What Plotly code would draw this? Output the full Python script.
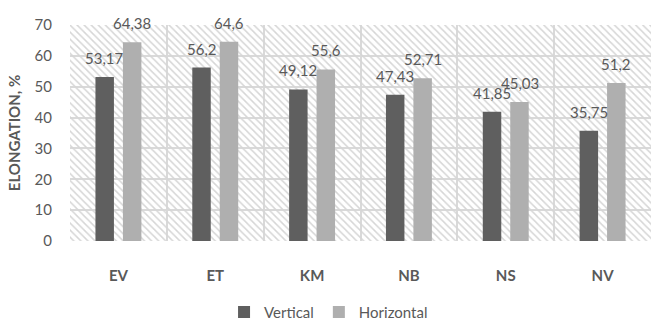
import plotly.graph_objects as go

# Elongation (%) per sample, measured in two directions
categories = ["EV", "ET", "KM", "NB", "NS", "NV"]
vertical = [53.17, 56.2, 49.12, 47.43, 41.85, 35.75]
horizontal = [64.38, 64.6, 55.6, 52.71, 45.03, 51.2]
y_ticks = [0, 10, 20, 30, 40, 50, 60, 70]

Y_MAX = 70
TEXT = "#595959"
GRID = "#d9d9d9"
HATCH = "#d6d6d6"
FONT = "Lato"

fig = go.Figure()

# Diagonal hatch filling the plot area, drawn beneath the data bars
fig.add_trace(go.Bar(
    x=[len(categories) / 2], y=[Y_MAX], width=[len(categories)],
    xaxis="x", yaxis="y",
    marker=dict(color=HATCH, line=dict(width=0),
                pattern=dict(shape="\\", fgcolor=HATCH, bgcolor="rgba(0,0,0,0)",
                             fillmode="replace", size=5, solidity=0.3)),
    showlegend=False, hoverinfo="skip",
))

fig.add_trace(go.Bar(name="Vertical", x=categories, y=vertical,
                     xaxis="x2", yaxis="y", marker=dict(color="#5f5f5f", line=dict(width=0))))
fig.add_trace(go.Bar(name="Horizontal", x=categories, y=horizontal,
                     xaxis="x2", yaxis="y", marker=dict(color="#afafaf", line=dict(width=0))))

# Value labels above each bar (decimal comma)
bar_offset = 13.75
annotations = []
for series, shift in ((vertical, -bar_offset), (horizontal, bar_offset)):
    for cat, val in zip(categories, series):
        annotations.append(dict(
            x=cat, y=val, xref="x2", yref="y", text=str(val).replace(".", ","),
            showarrow=False, xshift=shift, yshift=19, yanchor="middle",
            font=dict(family=FONT, size=15, color=TEXT),
        ))

fig.update_layout(
    width=651, height=322,
    margin=dict(l=70, r=0, t=25, b=81, autoexpand=False),
    paper_bgcolor="white", plot_bgcolor="white",
    barmode="group", bargap=0.433, bargroupgap=0.327,
    font=dict(family=FONT, color=TEXT),
    xaxis=dict(range=[0, len(categories)], tick0=0, dtick=1, showgrid=True,
               gridcolor=GRID, gridwidth=2, showticklabels=False, zeroline=False,
               showline=False, fixedrange=True),
    xaxis2=dict(overlaying="x", anchor="y", side="bottom", type="category",
                range=[-0.5, len(categories) - 0.5], showgrid=False, showline=False,
                zeroline=False, ticks="", ticklabelstandoff=24,
                tickfont=dict(family=FONT, size=15, color=TEXT, weight="bold")),
    yaxis=dict(range=[0, Y_MAX], tickvals=y_ticks, showgrid=True, gridcolor=GRID,
               gridwidth=2, zeroline=False, showline=False, ticks="",
               ticklabelstandoff=17,
               tickfont=dict(family=FONT, size=15, color=TEXT),
               title=dict(text="ELONGATION, %", standoff=10,
                          font=dict(family=FONT, size=15, color=TEXT, weight="bold"))),
    legend=dict(orientation="h", x=0.445, xanchor="center", y=-0.33, yanchor="middle",
                font=dict(family=FONT, size=15, color=TEXT), traceorder="normal"),
    annotations=annotations,
)

fig.write_html("out.html")
